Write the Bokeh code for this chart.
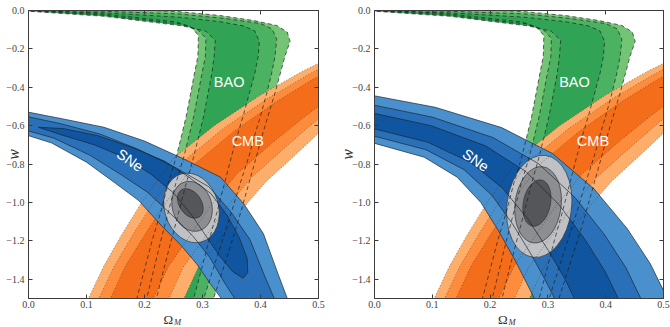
import math
from bokeh.plotting import figure
from bokeh.layouts import row, column
from bokeh.models import Range1d, FixedTicker, LinearAxis
from bokeh.core.properties import value
from bokeh.embed import file_html
from bokeh.resources import INLINE

# ---------------- axes ----------------
x_ticks = [0.0, 0.1, 0.2, 0.3, 0.4, 0.5]
x_tick_labels = ["0.0", "0.1", "0.2", "0.3", "0.4", "0.5"]
y_ticks = [-1.4, -1.2, -1.0, -0.8, -0.6, -0.4, -0.2, 0.0]
y_tick_labels = ["−1.4", "−1.2", "−1.0", "−0.8", "−0.6", "−0.4", "−0.2", "0.0"]

# ---------------- BAO contours (same in both panels) ----------------
# left / right edges of the 3-sigma, 2-sigma and 1-sigma regions, (Omega_M, w)
bao_left_3 = [(-0.02, 0.02), (0.0, 0.005), (0.13, -0.018), (0.255, -0.06), (0.28, -0.085), (0.293, -0.13),
              (0.292, -0.24), (0.286, -0.33), (0.279, -0.44), (0.272, -0.55), (0.264, -0.65), (0.255, -0.76),
              (0.241, -0.9), (0.228, -1.05), (0.213, -1.2), (0.2, -1.35), (0.185, -1.52)]
bao_left_2 = [(-0.02, 0.015), (0.0, 0.0), (0.13, -0.024), (0.262, -0.07), (0.292, -0.1), (0.306, -0.145),
              (0.305, -0.24), (0.299, -0.33), (0.292, -0.44), (0.285, -0.55), (0.277, -0.65), (0.268, -0.76),
              (0.254, -0.9), (0.241, -1.05), (0.228, -1.2), (0.216, -1.35), (0.202, -1.52)]
bao_left_1 = [(-0.02, 0.01), (0.0, -0.004), (0.13, -0.03), (0.265, -0.08), (0.306, -0.108), (0.322, -0.155),
              (0.32, -0.24), (0.316, -0.33), (0.309, -0.44), (0.302, -0.55), (0.294, -0.65), (0.285, -0.76),
              (0.272, -0.9), (0.259, -1.05), (0.246, -1.2), (0.233, -1.35), (0.219, -1.52)]
bao_right_1 = [(-0.02, 0.01), (0.0, 0.0), (0.13, -0.012), (0.26, -0.035), (0.33, -0.058), (0.37, -0.08),
               (0.39, -0.106), (0.398, -0.16), (0.396, -0.24), (0.39, -0.33), (0.38, -0.44), (0.37, -0.55),
               (0.36, -0.65), (0.35, -0.76), (0.338, -0.9), (0.325, -1.05), (0.311, -1.2), (0.298, -1.35),
               (0.283, -1.52)]
bao_right_2 = [(-0.02, 0.015), (0.0, 0.005), (0.13, -0.004), (0.26, -0.018), (0.34, -0.042), (0.4, -0.068),
               (0.42, -0.096), (0.428, -0.15), (0.425, -0.24), (0.419, -0.33), (0.41, -0.44), (0.4, -0.55),
               (0.39, -0.65), (0.38, -0.76), (0.365, -0.9), (0.35, -1.05), (0.334, -1.2), (0.318, -1.35),
               (0.3, -1.52)]
bao_right_3 = [(-0.02, 0.02), (0.0, 0.01), (0.2, 0.002), (0.26, -0.006), (0.33, -0.026), (0.388, -0.052),
               (0.428, -0.078), (0.446, -0.112), (0.451, -0.16), (0.442, -0.24), (0.434, -0.33), (0.424, -0.44),
               (0.413, -0.55), (0.403, -0.65), (0.393, -0.76), (0.38, -0.9), (0.366, -1.05), (0.351, -1.2),
               (0.335, -1.35), (0.317, -1.52)]

# ---------------- CMB contours (same in both panels) ----------------
cmb_upper_3 = [(0.10, -1.52), (0.13, -1.33), (0.16, -1.17), (0.195, -1.0), (0.25, -0.77), (0.32, -0.6),
               (0.40, -0.44), (0.47, -0.32), (0.53, -0.23)]
cmb_upper_2 = [(0.118, -1.52), (0.148, -1.331), (0.179, -1.172), (0.214, -1.006), (0.268, -0.783),
               (0.336, -0.614), (0.412, -0.459), (0.48, -0.338), (0.538, -0.247)]
cmb_upper_1 = [(0.138, -1.52), (0.167, -1.331), (0.199, -1.175), (0.234, -1.012), (0.287, -0.798),
               (0.354, -0.63), (0.425, -0.479), (0.491, -0.357), (0.546, -0.265)]
cmb_lower_1 = [(0.212, -1.52), (0.241, -1.334), (0.276, -1.184), (0.31, -1.034), (0.359, -0.852),
               (0.421, -0.688), (0.475, -0.556), (0.531, -0.429), (0.578, -0.332)]
cmb_lower_2 = [(0.239, -1.52), (0.267, -1.335), (0.303, -1.187), (0.337, -1.042), (0.384, -0.871),
               (0.444, -0.709), (0.492, -0.583), (0.546, -0.454), (0.589, -0.356)]
cmb_lower_3 = [(0.265, -1.52), (0.293, -1.336), (0.33, -1.19), (0.364, -1.05), (0.41, -0.89),
               (0.468, -0.73), (0.51, -0.61), (0.56, -0.48), (0.60, -0.38)]

# ---------------- SNe contours, left panel ----------------
sne_a_upper_3 = [(-0.02, -0.518), (0.06, -0.565), (0.13, -0.608), (0.2, -0.68), (0.267, -0.772),
                 (0.331, -0.868), (0.371, -1.006), (0.405, -1.162), (0.43, -1.37), (0.45, -1.53)]
sne_a_upper_2 = [(-0.02, -0.541), (0.056, -0.59), (0.124, -0.644), (0.19, -0.724), (0.252, -0.816),
                 (0.311, -0.918), (0.349, -1.049), (0.382, -1.194), (0.407, -1.382), (0.428, -1.53)]
sne_a_lower_2 = [(-0.02, -0.61), (0.044, -0.665), (0.106, -0.754), (0.16, -0.856), (0.205, -0.946),
                 (0.249, -1.07), (0.284, -1.177), (0.313, -1.288), (0.338, -1.418), (0.362, -1.53)]
sne_a_lower_3 = [(-0.02, -0.633), (0.04, -0.69), (0.1, -0.79), (0.15, -0.9), (0.19, -0.99),
                 (0.229, -1.12), (0.262, -1.22), (0.29, -1.32), (0.315, -1.43), (0.34, -1.53)]
sne_a_core_upper = [(0.017, -0.608), (0.06, -0.615), (0.12, -0.652), (0.18, -0.715), (0.235, -0.785),
                    (0.275, -0.865), (0.315, -0.955), (0.342, -1.065), (0.363, -1.18), (0.377, -1.29),
                    (0.378, -1.365), (0.37, -1.395)]
sne_a_core_lower = [(0.017, -0.608), (0.057, -0.648), (0.114, -0.7), (0.165, -0.765), (0.21, -0.85),
                    (0.25, -0.95), (0.28, -1.06), (0.305, -1.17), (0.33, -1.28), (0.352, -1.36), (0.37, -1.395)]

# ---------------- SNe contours, right panel ----------------
sne_b_upper_3 = [(-0.02, -0.433), (0.105, -0.504), (0.22, -0.61), (0.308, -0.745), (0.38, -0.93),
                 (0.437, -1.135), (0.477, -1.318), (0.51, -1.52)]
sne_b_upper_2 = [(-0.02, -0.481), (0.101, -0.556), (0.205, -0.662), (0.283, -0.796), (0.347, -0.974),
                 (0.398, -1.168), (0.435, -1.34), (0.464, -1.52)]
sne_b_upper_1 = [(-0.02, -0.523), (0.098, -0.6), (0.192, -0.705), (0.262, -0.839), (0.319, -1.011),
                 (0.365, -1.196), (0.399, -1.359), (0.425, -1.52)]
sne_b_lower_1 = [(-0.02, -0.602), (0.092, -0.686), (0.166, -0.791), (0.221, -0.924), (0.265, -1.084),
                 (0.301, -1.251), (0.329, -1.396), (0.349, -1.52)]
sne_b_lower_2 = [(-0.02, -0.639), (0.089, -0.725), (0.155, -0.829), (0.203, -0.962), (0.24, -1.117),
                 (0.272, -1.275), (0.297, -1.413), (0.315, -1.52)]
sne_b_lower_3 = [(-0.02, -0.675), (0.086, -0.764), (0.143, -0.868), (0.184, -1.0), (0.215, -1.15),
                 (0.243, -1.3), (0.265, -1.43), (0.28, -1.52)]

# ---------------- combined constraints (3, 2, 1 sigma) ----------------
combo_a_x = [0.281, 0.282, 0.279]
combo_a_y = [-1.028, -1.02, -1.005]
combo_a_w = [0.093, 0.068, 0.038]
combo_a_h = [0.37, 0.265, 0.17]
combo_a_angle = [0.3, 0.3, 0.6]

combo_b_x = [0.285, 0.283, 0.281]
combo_b_y = [-1.02, -1.012, -1.003]
combo_b_w = [0.112, 0.08, 0.047]
combo_b_h = [0.535, 0.40, 0.245]
combo_b_angle = [-0.12, -0.12, -0.2]

# ---------------- labels ----------------
probe_names = ["BAO", "CMB", "SNe"]
probe_x = [0.346, 0.378, 0.175]
probe_y = [-0.373, -0.68, -0.78]
probe_angle = [0.0, 0.0, -0.62]

BAO_FILL = ["#74c476", "#4bb262", "#31a354"]
CMB_FILL = ["#fdae6b", "#fd8d3c", "#f46d1a"]
SNE_FILL = ["#4a90cd", "#2a70b8", "#0f55a0"]
COMBO_FILL = ["#c0c1c4", "#8d8e92", "#55565a"]
FRAME = "#3c3c3c"
LABEL_COLOR = "#333333"


def xs_ys(points):
    return [p[0] for p in points], [p[1] for p in points]


def region(first_edge, second_edge):
    pts = list(first_edge) + list(reversed(second_edge))
    return xs_ys(pts)


def style_axis(ax, ticks, labels, show, standoff=4):
    ax.ticker = FixedTicker(ticks=ticks)
    ax.major_label_overrides = {t: lab for t, lab in zip(ticks, labels)}
    ax.major_tick_in = 4
    ax.major_tick_out = 0
    ax.minor_tick_line_color = None
    ax.axis_line_color = FRAME
    ax.major_tick_line_color = FRAME
    ax.major_label_text_font = "Liberation Serif"
    ax.major_label_text_color = "#444444"
    if show:
        ax.major_label_text_font_size = "10px"
        ax.major_label_standoff = standoff
    else:
        ax.major_label_text_font_size = "0px"
        ax.major_label_text_alpha = 0
        ax.major_label_standoff = 0


def make_panel(sne_bands, sne_core, combo, border_left, border_right, ylabel_standoff):
    p = figure(width=335, height=312, x_range=Range1d(0, 0.5), y_range=Range1d(-1.5, 0),
               output_backend="svg", toolbar_location=None, tools="",
               min_border_left=border_left, min_border_right=border_right,
               min_border_top=10, min_border_bottom=14)
    p.xgrid.grid_line_color = None
    p.ygrid.grid_line_color = None
    p.outline_line_color = FRAME
    p.background_fill_color = "white"
    p.border_fill_color = "white"

    style_axis(p.xaxis[0], x_ticks, x_tick_labels, True, standoff=2)
    style_axis(p.yaxis[0], y_ticks, y_tick_labels, True, standoff=4)
    p.yaxis[0].axis_label = "w"
    p.yaxis[0].axis_label_text_font = "Liberation Serif"
    p.yaxis[0].axis_label_text_font_style = "italic"
    p.yaxis[0].axis_label_text_font_size = "16px"
    p.yaxis[0].axis_label_text_color = LABEL_COLOR
    p.yaxis[0].axis_label_standoff = ylabel_standoff

    top_axis = LinearAxis()
    right_axis = LinearAxis()
    style_axis(top_axis, x_ticks, x_tick_labels, False)
    style_axis(right_axis, y_ticks, y_tick_labels, False)
    p.add_layout(top_axis, "above")
    p.add_layout(right_axis, "right")

    bao_lefts = [bao_left_3, bao_left_2, bao_left_1]
    bao_rights = [bao_right_3, bao_right_2, bao_right_1]
    cmb_uppers = [cmb_upper_3, cmb_upper_2, cmb_upper_1]
    cmb_lowers = [cmb_lower_3, cmb_lower_2, cmb_lower_1]

    # filled regions
    for k in range(3):
        xs, ys = region(bao_lefts[k], bao_rights[k])
        p.patch(xs, ys, fill_color=BAO_FILL[k], line_color=None)
    for k in range(3):
        xs, ys = region(cmb_uppers[k], cmb_lowers[k])
        p.patch(xs, ys, fill_color=CMB_FILL[k], line_color=None)
    for k, (up, lo) in enumerate(sne_bands):
        xs, ys = region(up, lo)
        p.patch(xs, ys, fill_color=SNE_FILL[k], line_color=None)
    if sne_core is not None:
        xs, ys = region(sne_core[0], sne_core[1])
        p.patch(xs, ys, fill_color=SNE_FILL[2], line_color=None)

    cx, cy, cw, ch, ca = combo
    p.ellipse(x=cx, y=cy, width=cw, height=ch, angle=ca, fill_color=COMBO_FILL,
              line_color="#333333", line_width=0.7)

    # contour outlines on top
    for edge in bao_lefts + bao_rights:
        xs, ys = xs_ys(edge)
        p.line(xs, ys, line_color="#1e1e1e", line_width=0.8, line_dash="4 3", line_alpha=0.85)
    for edge in cmb_uppers + cmb_lowers:
        xs, ys = xs_ys(edge)
        p.line(xs, ys, line_color="#3a2a20", line_width=0.8, line_dash="1 2", line_alpha=0.6)
    for up, lo in sne_bands:
        for edge in (up, lo):
            xs, ys = xs_ys(edge)
            p.line(xs, ys, line_color="#1a2530", line_width=0.8, line_alpha=0.85)
    if sne_core is not None:
        xs, ys = region(sne_core[0], sne_core[1])
        p.patch(xs, ys, fill_color=None, line_color="#1a2530", line_width=0.8, line_alpha=0.85)

    p.text(x=probe_x, y=probe_y, text=probe_names, angle=probe_angle, text_color="white",
           text_font=value("Liberation Sans"), text_font_size="14.5px",
           text_align="center", text_baseline="middle")
    return p


def make_xtitle(border_left, border_right, omega_x):
    # thin strip under a panel carrying the Omega_M axis title
    s = figure(width=335, height=15, x_range=Range1d(0, 0.5), y_range=Range1d(0, 1),
               output_backend="svg", toolbar_location=None, tools="",
               x_axis_type=None, y_axis_type=None,
               min_border_left=border_left, min_border_right=border_right,
               min_border_top=0, min_border_bottom=0)
    s.outline_line_color = None
    s.xgrid.grid_line_color = None
    s.ygrid.grid_line_color = None
    s.text(x=[omega_x], y=[0.52], text=["Ω"], text_color=LABEL_COLOR,
           text_font=value("Liberation Serif"), text_font_size="13px",
           text_align="center", text_baseline="middle")
    s.text(x=[omega_x + 0.016], y=[0.36], text=["M"], text_color=LABEL_COLOR,
           text_font=value("Liberation Serif"), text_font_style="italic", text_font_size="8.5px",
           text_align="center", text_baseline="middle")
    return s


left = make_panel([(sne_a_upper_3, sne_a_lower_3), (sne_a_upper_2, sne_a_lower_2)],
                  (sne_a_core_upper, sne_a_core_lower),
                  (combo_a_x, combo_a_y, combo_a_w, combo_a_h, combo_a_angle),
                  28, 17, -19)
right = make_panel([(sne_b_upper_3, sne_b_lower_3), (sne_b_upper_2, sne_b_lower_2),
                    (sne_b_upper_1, sne_b_lower_1)],
                   None,
                   (combo_b_x, combo_b_y, combo_b_w, combo_b_h, combo_b_angle),
                   39, 7, -7)

layout = column(row(left, right),
                row(make_xtitle(28, 17, 0.241), make_xtitle(39, 7, 0.222)))
open("out.html", "w").write(file_html(layout, INLINE, title="Dark energy constraints"))
